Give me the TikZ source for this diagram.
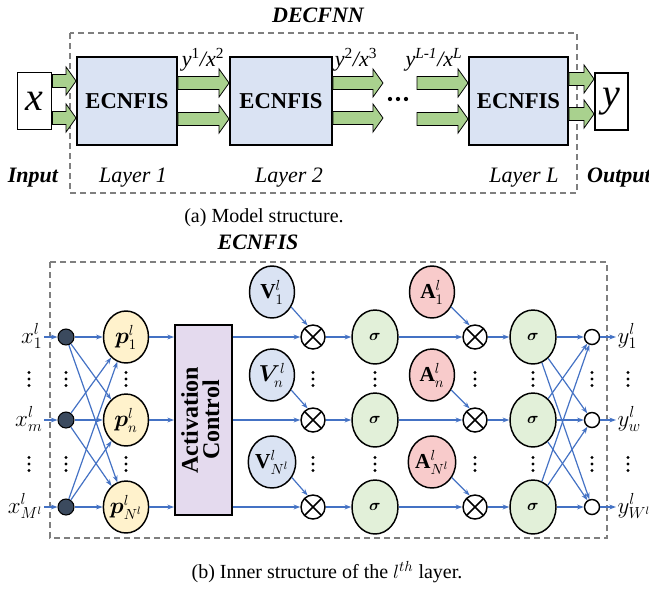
\documentclass[tikz,border=0pt]{standalone}
\usepackage{fontspec}
\setmainfont{Liberation Serif}
\usepackage{bm}
\usepackage{graphicx}
\usetikzlibrary{arrows.meta,calc,shapes.geometric}

\definecolor{layerfill}{HTML}{DAE3F3}
\definecolor{arrowgreen}{HTML}{A9D18E}
\definecolor{ctrlfill}{HTML}{E4DAEE}
\definecolor{pfill}{HTML}{FFF2CC}
\definecolor{sfill}{HTML}{E2F0D9}
\definecolor{afill}{HTML}{F8CBCB}
\definecolor{vfill}{HTML}{DAE3F3}
\definecolor{dotfill}{HTML}{3B4A5E}
\definecolor{wire}{HTML}{4472C4}
\definecolor{framegray}{HTML}{7F7F7F}

\newcommand\px{0.75pt}
% wide block arrow between two points at the same height
\newcommand\fatarrow[2]{%
  \filldraw[fatarr] let \p1=#1, \p2=#2 in
    (\x1,\y1+4.9pt) -- (\x2-7.5pt,\y1+4.9pt) -- (\x2-7.5pt,\y1+10.5pt) -- (\x2,\y1)
    -- (\x2-7.5pt,\y1-10.5pt) -- (\x2-7.5pt,\y1-4.9pt) -- (\x1,\y1-4.9pt) -- cycle;}

\begin{document}
\begin{tikzpicture}[x=0.75pt,y=-0.75pt,
  frame/.style={draw=framegray, line width=1.1pt, dash pattern=on 4.5pt off 3pt},
  layerbox/.style={draw, line width=1.4pt, fill=layerfill, minimum width=100*\px,
    minimum height=88*\px, inner sep=0pt, font=\fontsize{17}{18}\selectfont\bfseries},
  iobox/.style={draw, line width=1.4pt, fill=white, minimum width=34*\px,
    minimum height=57*\px, inner sep=0pt, font=\fontsize{30}{30}\selectfont\itshape},
  fatarr/.style={draw=black, line width=0.6pt, fill=arrowgreen},
  toplabel/.style={font=\fontsize{16.5}{18}\selectfont\itshape},
  topbold/.style={font=\fontsize{16.5}{18}\selectfont\bfseries\itshape},
  caption/.style={font=\fontsize{15}{17}\selectfont},
  flow/.style={draw=wire, line width=0.9pt, -{Stealth[length=5pt,width=3.6pt]}},
  ball/.style={ellipse, draw, line width=1.1pt, minimum width=45*\px, minimum height=52*\px,
    inner sep=0pt, font=\fontsize{16}{16}\selectfont},
  pnode/.style={ball, fill=pfill},
  vnode/.style={ball, fill=vfill},
  anode/.style={ball, fill=afill},
  snode/.style={ball, fill=sfill, minimum width=46*\px, minimum height=54*\px,
    font=\fontsize{12}{12}\selectfont},
  mult/.style={circle, draw, line width=1.1pt, fill=white, minimum size=24*\px, inner sep=0pt,
    path picture={\draw[line width=1.1pt]
      (path picture bounding box.north west) -- (path picture bounding box.south east)
      (path picture bounding box.north east) -- (path picture bounding box.south west);}},
  inball/.style={circle, draw, line width=0.8pt, fill=dotfill, minimum size=16*\px, inner sep=0pt},
  outball/.style={circle, draw, line width=1.1pt, fill=white, minimum size=15*\px, inner sep=0pt},
  actbox/.style={draw, line width=1.4pt, fill=ctrlfill, minimum width=57*\px,
    minimum height=190*\px, inner sep=0pt, font=\fontsize{18}{19}\selectfont\bfseries},
  sidelabel/.style={inner sep=1pt, font=\fontsize{17}{17}\selectfont},
  vdots/.pic={\fill (0,-6.5) circle (1.2pt) (0,0) circle (1.2pt) (0,6.5) circle (1.2pt);}
]
\useasboundingbox (0,0) rectangle (649,589);

% ---------------- (a) model structure ----------------
\node[topbold] (title) at (318,15) {DECFNN};
\draw[frame] (70,33) rectangle (577,193);

\node[iobox] (in) at (34.5,101) {x};
\node[layerbox] (b1) at (127,101) {ECNFIS};
\node[layerbox, minimum width=102*\px] (b2) at (281,101) {ECNFIS};
\node[layerbox, minimum width=99*\px] (bL) at (518.5,101) {ECNFIS};
\node[iobox, minimum width=33*\px] (out) at (611.5,101.5) {y};

\coordinate (gapL) at (383,83);
\coordinate (gapR) at (417,83);

\fatarrow{(in.east|-0,81)}{(b1.west|-0,81)}
\fatarrow{(in.east|-0,118)}{(b1.west|-0,118)}
\fatarrow{(b1.east|-0,83)}{(b2.west|-0,83)}
\fatarrow{(b1.east|-0,119)}{(b2.west|-0,119)}
\fatarrow{(b2.east|-gapL)}{(gapL)}
\fatarrow{(b2.east|-0,118)}{(gapL|-0,118)}
\fatarrow{(gapR)}{(bL.west|-gapR)}
\fatarrow{(gapR|-0,119)}{(bL.west|-0,119)}
\fatarrow{(bL.east|-0,79)}{(out.west|-0,79)}
\fatarrow{(bL.east|-0,114)}{(out.west|-0,114)}

\fill (390,99) circle (1.6pt) (398,99) circle (1.6pt) (406,99) circle (1.6pt);

\node[toplabel] (lab12) at (203,60) {y\textsuperscript{\upshape 1}/x\textsuperscript{\upshape 2}};
\node[toplabel] (lab23) at (356,60) {y\textsuperscript{\upshape 2}/x\textsuperscript{\upshape 3}};
\node[toplabel] (labL) at (434,60) {y\textsuperscript{L-1}/x\textsuperscript{L}};

\node[topbold] (inlab) at (33,178) {Input};
\node[toplabel] (lay1) at (133,178) {Layer 1};
\node[toplabel] (lay2) at (289,178) {Layer 2};
\node[toplabel] (layL) at (524,178) {Layer L};
\node[topbold] (outlab) at (619,178) {Output};

\node[caption] (capa) at (264,218) {(a) Model structure.};

% ---------------- (b) inner structure ----------------
\node[topbold] (title2) at (258,242) {ECNFIS};
\draw[frame] (50,262) rectangle (607,538);

\node[actbox] (ac) at (203.5,420)
  {\rotatebox{90}{\begin{tabular}{@{}c@{}}Activation\\[-3pt]Control\end{tabular}}};

\foreach \k/\r/\xs/\ns/\ys/\vv in {1/337/1/1/1/{\mathbf{V}}, 2/420/m/n/w/{\bm{V}}, 3/507/{M^l}/{N^l}/{W^l}/{\mathbf{V}}}{
  \node[inball] (d\k) at (66,\r) {};
  \node[pnode] (p\k) at (126,\r) {$\bm{p}^{l}_{\ns}$};
  \node[mult] (m\k) at (313,\r) {};
  \node[vnode] (v\k) at (272,\r-45) {$\vv^{l}_{\ns}$};
  \node[snode] (s\k) at (375,\r) {$\bm{\sigma}$};
  \node[mult] (q\k) at (475,\r) {};
  \node[anode] (a\k) at (432,\r-45) {$\mathbf{A}^{l}_{\ns}$};
  \node[snode] (t\k) at (533,\r) {$\bm{\sigma}$};
  \node[outball] (o\k) at (592,\r) {};
  \node[sidelabel, anchor=base east] (x\k) at (44,\r+6) {$x^{l}_{\xs}$};
  \node[sidelabel, anchor=base west] (y\k) at (616,\r+6) {$y^{l}_{\ys}$};

  \draw[flow] (x\k.east|-d\k) -- (d\k);
  \draw[flow] (p\k) -- (ac.west|-p\k);
  \draw[flow] (ac.east|-m\k) -- (m\k);
  \draw[flow] (v\k.-38) -- (m\k.115);
  \draw[flow] (m\k) -- (s\k);
  \draw[flow] (s\k) -- (q\k);
  \draw[flow] (a\k.-38) -- (q\k.115);
  \draw[flow] (q\k) -- (t\k);
  \draw[flow] (o\k) -- (y\k.west|-o\k);
}

\foreach \i in {1,2,3}{
  \foreach \j in {1,2,3}{
    \draw[flow] (d\i) -- (p\j);
    \draw[flow] (t\i) -- (o\j);
  }
}

% vertical ellipses between the rows
\foreach \cx in {29,66,126,313,375,475,533,592,628}{
  \pic at (\cx,379) {vdots};
  \pic at (\cx,464) {vdots};
}

\node[caption] (capb) at (327,572) {(b) Inner structure of the $l^{th}$ layer.};
\end{tikzpicture}
\end{document}
